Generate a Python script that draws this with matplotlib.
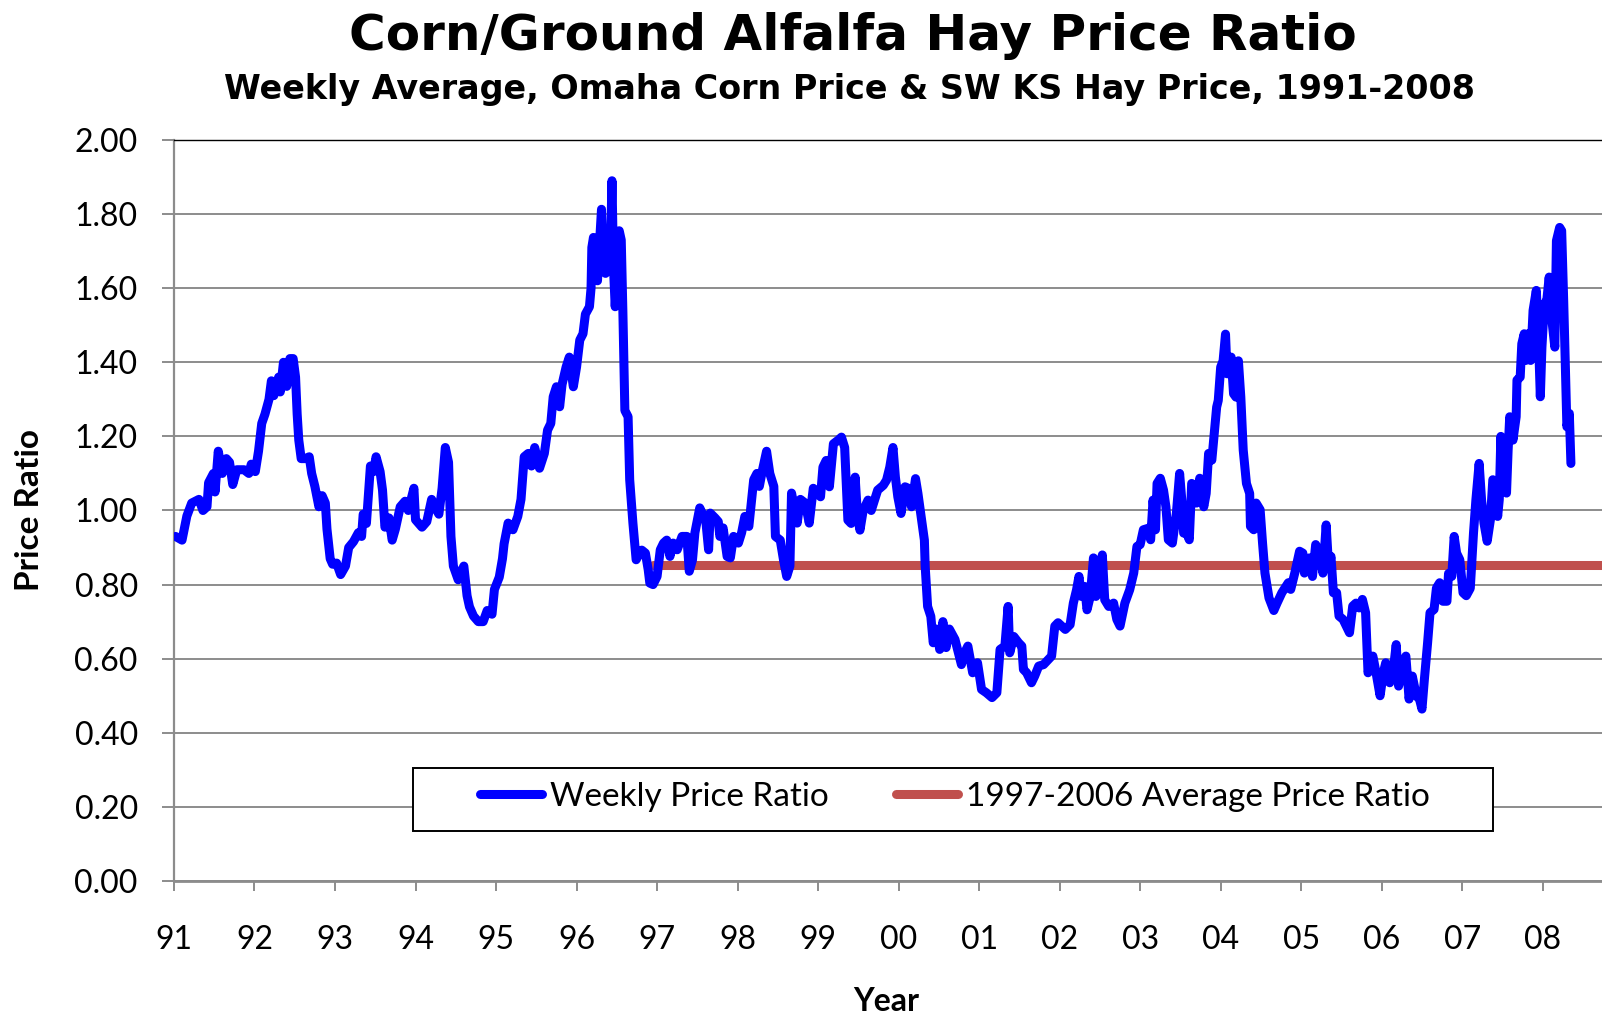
import matplotlib
matplotlib.use("Agg")
import matplotlib.pyplot as plt
from matplotlib.patches import Rectangle

# Semanas (ano decimal) e razão de preço milho/feno
years = [
    1991.02, 1991.10, 1991.16, 1991.22, 1991.31, 1991.36, 1991.41, 1991.43, 1991.49, 1991.51,
    1991.55, 1991.60, 1991.65, 1991.69, 1991.73, 1991.78, 1991.87, 1991.93, 1991.96, 1992.01,
    1992.05, 1992.09, 1992.13, 1992.18, 1992.21, 1992.24, 1992.30, 1992.32, 1992.36, 1992.40,
    1992.44, 1992.48, 1992.51, 1992.53, 1992.55, 1992.58, 1992.63, 1992.68, 1992.71, 1992.75,
    1992.80, 1992.84, 1992.88, 1992.90, 1992.94, 1992.97, 1993.02, 1993.07, 1993.13, 1993.17,
    1993.23, 1993.29, 1993.33, 1993.35, 1993.39, 1993.44, 1993.48, 1993.51, 1993.56, 1993.59,
    1993.62, 1993.67, 1993.71, 1993.75, 1993.81, 1993.87, 1993.91, 1993.98, 1994.00, 1994.08,
    1994.14, 1994.20, 1994.24, 1994.29, 1994.33, 1994.37, 1994.41, 1994.44, 1994.47, 1994.53,
    1994.60, 1994.64, 1994.67, 1994.72, 1994.78, 1994.84, 1994.89, 1994.95, 1994.98, 1995.04,
    1995.08, 1995.10, 1995.15, 1995.21, 1995.27, 1995.31, 1995.35, 1995.40, 1995.44, 1995.48,
    1995.54, 1995.60, 1995.64, 1995.68, 1995.71, 1995.75, 1995.79, 1995.82, 1995.87, 1995.91,
    1995.96, 1996.00, 1996.04, 1996.08, 1996.11, 1996.16, 1996.18, 1996.19, 1996.21, 1996.235,
    1996.26, 1996.285, 1996.31, 1996.33, 1996.36, 1996.39, 1996.42, 1996.44, 1996.46, 1996.48,
    1996.51, 1996.53, 1996.555, 1996.575, 1996.60, 1996.64, 1996.66, 1996.70, 1996.74, 1996.77,
    1996.81, 1996.855, 1996.89, 1996.91, 1996.95, 1997.00, 1997.04, 1997.08, 1997.12, 1997.16,
    1997.20, 1997.25, 1997.31, 1997.37, 1997.40, 1997.44, 1997.47, 1997.53, 1997.56, 1997.60,
    1997.64, 1997.66, 1997.72, 1997.76, 1997.78, 1997.82, 1997.87, 1997.91, 1997.95, 1998.01,
    1998.05, 1998.09, 1998.14, 1998.20, 1998.24, 1998.27, 1998.31, 1998.36, 1998.40, 1998.45,
    1998.47, 1998.53, 1998.57, 1998.61, 1998.65, 1998.67, 1998.71, 1998.74, 1998.78, 1998.84,
    1998.89, 1998.94, 1999.03, 1999.06, 1999.10, 1999.14, 1999.19, 1999.25, 1999.29, 1999.33,
    1999.37, 1999.41, 1999.46, 1999.49, 1999.52, 1999.56, 1999.62, 1999.66, 1999.74, 1999.81,
    1999.85, 1999.89, 1999.93, 1999.96, 1999.99, 2000.03, 2000.08, 2000.12, 2000.16, 2000.21,
    2000.24, 2000.28, 2000.32, 2000.33, 2000.36, 2000.40, 2000.43, 2000.47, 2000.51, 2000.55,
    2000.59, 2000.63, 2000.70, 2000.78, 2000.82, 2000.86, 2000.92, 2000.98, 2001.03, 2001.09,
    2001.16, 2001.22, 2001.26, 2001.32, 2001.36, 2001.38, 2001.43, 2001.49, 2001.53, 2001.55,
    2001.59, 2001.65, 2001.69, 2001.74, 2001.80, 2001.86, 2001.90, 2001.94, 2001.98, 2002.07,
    2002.13, 2002.17, 2002.21, 2002.24, 2002.27, 2002.31, 2002.34, 2002.38, 2002.42, 2002.45,
    2002.50, 2002.53, 2002.56, 2002.61, 2002.67, 2002.71, 2002.75, 2002.81, 2002.87, 2002.92,
    2002.96, 2003.00, 2003.04, 2003.10, 2003.13, 2003.16, 2003.19, 2003.21, 2003.25, 2003.29,
    2003.32, 2003.35, 2003.40, 2003.45, 2003.49, 2003.52, 2003.54, 2003.58, 2003.61, 2003.64,
    2003.68, 2003.70, 2003.74, 2003.79, 2003.82, 2003.85, 2003.89, 2003.92, 2003.95, 2003.97,
    2004.00, 2004.03, 2004.06, 2004.08, 2004.13, 2004.16, 2004.19, 2004.22, 2004.25, 2004.28,
    2004.32, 2004.36, 2004.37, 2004.41, 2004.44, 2004.49, 2004.52, 2004.55, 2004.60, 2004.66,
    2004.70, 2004.76, 2004.84, 2004.87, 2004.92, 2004.98, 2005.02, 2005.04, 2005.10, 2005.14,
    2005.18, 2005.23, 2005.27, 2005.31, 2005.34, 2005.37, 2005.40, 2005.44, 2005.47, 2005.52,
    2005.56, 2005.60, 2005.64, 2005.68, 2005.72, 2005.76, 2005.80, 2005.83, 2005.89, 2005.93,
    2005.98, 2006.02, 2006.05, 2006.10, 2006.14, 2006.18, 2006.21, 2006.25, 2006.30, 2006.34,
    2006.38, 2006.43, 2006.47, 2006.50, 2006.53, 2006.57, 2006.60, 2006.65, 2006.68, 2006.72,
    2006.76, 2006.81, 2006.83, 2006.87, 2006.90, 2006.93, 2006.97, 2007.01, 2007.05, 2007.10,
    2007.14, 2007.17, 2007.21, 2007.24, 2007.27, 2007.31, 2007.35, 2007.38, 2007.41, 2007.44,
    2007.46, 2007.48, 2007.51, 2007.55, 2007.57, 2007.59, 2007.63, 2007.67, 2007.68, 2007.72,
    2007.74, 2007.77, 2007.79, 2007.82, 2007.85, 2007.88, 2007.92, 2007.945, 2007.97, 2007.99,
    2008.02, 2008.05, 2008.08, 2008.11, 2008.15, 2008.17, 2008.21, 2008.235, 2008.26, 2008.30,
    2008.33, 2008.35,
]
ratio = [
    0.93, 0.92, 0.985, 1.02, 1.03, 1.00, 1.01, 1.075, 1.10, 1.05,
    1.16, 1.10, 1.14, 1.13, 1.07, 1.11, 1.11, 1.10, 1.125, 1.105,
    1.16, 1.235, 1.26, 1.30, 1.35, 1.31, 1.36, 1.32, 1.40, 1.335,
    1.41, 1.41, 1.36, 1.26, 1.19, 1.14, 1.14, 1.145, 1.10, 1.065,
    1.01, 1.04, 1.02, 0.95, 0.87, 0.855, 0.858, 0.827, 0.85, 0.90,
    0.916, 0.94, 0.93, 0.99, 0.965, 1.12, 1.105, 1.145, 1.105, 1.055,
    0.955, 0.98, 0.92, 0.95, 1.01, 1.025, 1.00, 1.06, 0.975, 0.955,
    0.97, 1.03, 1.01, 0.99, 1.06, 1.17, 1.13, 0.93, 0.85, 0.813,
    0.85, 0.77, 0.74, 0.715, 0.70, 0.70, 0.73, 0.72, 0.787, 0.82,
    0.87, 0.91, 0.966, 0.948, 0.984, 1.03, 1.145, 1.154, 1.12, 1.17,
    1.114, 1.154, 1.217, 1.235, 1.307, 1.334, 1.28, 1.34, 1.387, 1.414,
    1.334, 1.387, 1.46, 1.477, 1.53, 1.55, 1.60, 1.71, 1.737, 1.648,
    1.62, 1.72, 1.813, 1.675, 1.64, 1.746, 1.69, 1.89, 1.648, 1.55,
    1.675, 1.755, 1.73, 1.54, 1.27, 1.253, 1.083, 0.966, 0.867, 0.88,
    0.893, 0.885, 0.84, 0.804, 0.80, 0.822, 0.894, 0.912, 0.92, 0.876,
    0.912, 0.894, 0.93, 0.93, 0.836, 0.867, 0.94, 1.007, 0.993, 0.984,
    0.894, 0.993, 0.98, 0.97, 0.93, 0.953, 0.876, 0.872, 0.93, 0.912,
    0.94, 0.984, 0.957, 1.083, 1.10, 1.065, 1.11, 1.16, 1.10, 1.065,
    0.93, 0.92, 0.867, 0.822, 0.85, 1.047, 1.002, 0.966, 1.03, 1.02,
    0.966, 1.06, 1.037, 1.117, 1.135, 1.064, 1.18, 1.19, 1.198, 1.17,
    0.974, 0.965, 1.09, 0.983, 0.947, 1.00, 1.028, 1.00, 1.055, 1.068,
    1.082, 1.117, 1.17, 1.09, 1.037, 0.992, 1.064, 1.06, 1.01, 1.086,
    1.046, 0.983, 0.92, 0.849, 0.741, 0.714, 0.643, 0.68, 0.625, 0.70,
    0.63, 0.68, 0.652, 0.584, 0.616, 0.634, 0.562, 0.589, 0.517, 0.508,
    0.495, 0.508, 0.625, 0.634, 0.741, 0.616, 0.66, 0.643, 0.634, 0.571,
    0.562, 0.535, 0.553, 0.58, 0.584, 0.598, 0.607, 0.688, 0.697, 0.679,
    0.692, 0.75, 0.786, 0.822, 0.768, 0.795, 0.732, 0.768, 0.872, 0.768,
    0.786, 0.88, 0.759, 0.741, 0.75, 0.706, 0.688, 0.75, 0.786, 0.831,
    0.903, 0.908, 0.948, 0.952, 0.921, 1.028, 0.948, 1.073, 1.087, 1.055,
    1.01, 0.921, 0.912, 0.993, 1.10, 1.02, 0.939, 0.939, 0.921, 1.073,
    1.064, 1.02, 1.087, 1.01, 1.046, 1.154, 1.136, 1.208, 1.279, 1.297,
    1.387, 1.404, 1.476, 1.369, 1.414, 1.315, 1.306, 1.404, 1.306, 1.163,
    1.073, 1.046, 0.957, 0.948, 1.02, 1.002, 0.912, 0.831, 0.764, 0.73,
    0.75, 0.778, 0.805, 0.787, 0.831, 0.89, 0.885, 0.831, 0.872, 0.822,
    0.908, 0.885, 0.831, 0.961, 0.849, 0.876, 0.778, 0.778, 0.715, 0.706,
    0.688, 0.67, 0.742, 0.75, 0.737, 0.76, 0.724, 0.562, 0.607, 0.562,
    0.50, 0.562, 0.589, 0.535, 0.562, 0.638, 0.526, 0.58, 0.607, 0.491,
    0.553, 0.50, 0.49, 0.464, 0.544, 0.643, 0.724, 0.733, 0.791, 0.805,
    0.755, 0.755, 0.83, 0.822, 0.93, 0.885, 0.867, 0.778, 0.77, 0.79,
    0.939, 1.029, 1.127, 1.029, 0.966, 0.917, 0.975, 1.083, 1.074, 0.984,
    1.029, 1.20, 1.065, 1.047, 1.163, 1.253, 1.19, 1.253, 1.352, 1.36,
    1.45, 1.477, 1.405, 1.477, 1.405, 1.54, 1.594, 1.477, 1.307, 1.441,
    1.558, 1.567, 1.63, 1.522, 1.441, 1.728, 1.764, 1.755, 1.567, 1.226,
    1.262, 1.127,
]

# Média 1997-2006
avg_start = 1996.95
avg_end = 2009.0
avg_value = 0.852

tick_years = list(range(1991, 2009))
tick_labels = ["%02d" % (y % 100) for y in tick_years]
y_ticks = [0.0, 0.2, 0.4, 0.6, 0.8, 1.0, 1.2, 1.4, 1.6, 1.8, 2.0]

fig = plt.figure(figsize=(16.02, 10.16), dpi=100)
ax = fig.add_axes([0.1086, 0.1329, 0.8914, 0.7293])

ax.plot(years, ratio, color="#0000FF", lw=6.5, solid_joinstyle="round",
        solid_capstyle="round", label="Weekly Price Ratio", zorder=4)
ax.plot([avg_start, avg_end], [avg_value, avg_value], color="#C0504D", lw=6.5,
        solid_capstyle="round", label="1997-2006 Average Price Ratio", zorder=3)

ax.set_xlim(1991, 2008.736)
ax.set_ylim(0, 2.0)
ax.set_xticks(tick_years)
ax.set_xticklabels(tick_labels)
ax.set_yticks(y_ticks)
ax.set_yticklabels(["%.2f" % v for v in y_ticks])

ax.grid(axis="y", color="#8c8c8c", lw=1.4, zorder=1)
ax.set_axisbelow(True)
ax.spines["right"].set_visible(False)
ax.spines["top"].set_color("black")
ax.spines["top"].set_linewidth(1.0)
ax.spines["left"].set_color("#8c8c8c")
ax.spines["left"].set_linewidth(1.6)
ax.spines["bottom"].set_color("#8c8c8c")
ax.spines["bottom"].set_linewidth(2.0)

ax.tick_params(axis="y", direction="out", length=9, width=1.4, color="#8c8c8c",
               pad=17, labelsize=23, labelfontfamily="Lato")
ax.tick_params(axis="x", direction="out", length=7, width=1.4, color="#8c8c8c",
               pad=25, labelsize=23, labelfontfamily="Lato")

ax.set_ylabel("Price Ratio", fontsize=24, fontweight="bold", family="Lato")
ax.yaxis.set_label_coords(-0.1015, 0.5)
ax.yaxis.label.set_va("center")
ax.set_xlabel("Year", fontsize=23, fontweight="bold", family="Lato")
ax.xaxis.set_label_coords(0.499, -0.162)
ax.xaxis.label.set_va("center")

# caixa da legenda
ax.add_patch(Rectangle((0.1674, 0.0675), 0.7563, 0.085, transform=ax.transAxes,
                       facecolor="white", edgecolor="black", lw=1.4, zorder=5))
leg = ax.legend(loc="center", bbox_to_anchor=(0.547, 0.1134), ncol=2, frameon=False,
                prop={"family": "Lato", "size": 24}, handlelength=1.85,
                handletextpad=0.25, columnspacing=2.0)
leg.set_zorder(6)

fig.text(0.5325, 0.965, "Corn/Ground Alfalfa Hay Price Ratio", ha="center", va="center",
         fontsize=36, fontweight="bold", family="DejaVu Sans")
fig.text(0.53, 0.912, "Weekly Average, Omaha Corn Price & SW KS Hay Price, 1991-2008",
         ha="center", va="center", fontsize=24, fontweight="bold", family="DejaVu Sans")

fig.savefig("out.png", dpi=100)
